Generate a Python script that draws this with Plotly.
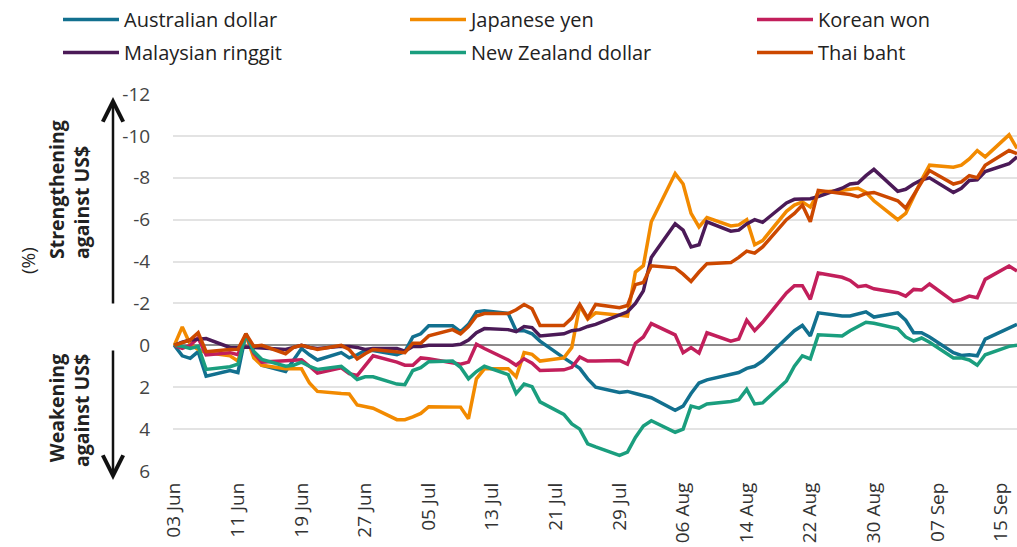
import pandas as pd
import plotly.graph_objects as go

dates = pd.bdate_range("2024-06-03", "2024-09-17")

aud = [0, 0.5, 0.62, 0.3, 1.47,
       1.2, 1.3, -0.55, 0.4, 0.95,
       1.25, 0.7, 0.15, 0.45, 0.7,
       0.35, 0.6, 0.45, 0.25, 0.25,
       0.45, 0.3, -0.4, -0.55, -0.93,
       -0.93, -0.65, -1.0, -1.6, -1.65,
       -1.52, -0.7, -0.7, -0.55, -0.2,
       0.6, 0.85, 1.1, 1.6, 2.0,
       2.25, 2.2, 2.3, 2.4, 2.5,
       3.1, 2.9, 2.3, 1.8, 1.65,
       1.4, 1.3, 1.1, 1.0, 0.75,
       -0.3, -0.7, -0.95, -0.45, -1.55,
       -1.4, -1.4, -1.5, -1.6, -1.35,
       -1.55, -1.2, -0.6, -0.6, -0.4,
       0.35, 0.48, 0.45, 0.5, -0.3,
       -0.8, -1.0]

jpy = [0, -0.88, -0.05, 0.2, 0.35,
       0.5, 0.75, -0.5, 0.6, 0.95,
       1.12, 1.12, 1.12, 1.8, 2.2,
       2.3, 2.32, 2.85, 2.93, 3.0,
       3.55, 3.55, 3.42, 3.25, 2.93,
       2.93, 2.95, 3.5, 1.6, 1.12,
       1.12, 1.5, 0.35, 0.43, 0.75,
       0.6, 0.1, -1.9, -1.25, -1.55,
       -1.45, -1.4, -3.5, -3.8, -5.9,
       -8.2, -7.7, -6.3, -5.65, -6.1,
       -5.7, -5.75, -6.0, -4.8, -5.0,
       -6.4, -6.7, -6.85, -6.6, -7.3,
       -7.4, -7.45, -7.5, -7.3, -6.9,
       -6.0, -6.3, -7.1, -7.9, -8.6,
       -8.5, -8.6, -8.9, -9.3, -9.0,
       -10.05, -9.4]

krw = [0, 0.15, 0.0, -0.35, 0.46,
       0.35, 0.45, -0.5, 0.38, 0.8,
       0.74, 0.7, 0.69, 1.0, 1.33,
       1.07, 1.35, 1.44, 1.0, 0.5,
       0.8, 0.95, 0.95, 0.6, 0.64,
       0.85, 0.9, 0.8, -0.05, 0.15,
       0.7, 0.95, 0.64, 0.85, 1.2,
       1.17, 1.05, 0.56, 0.75, 0.75,
       0.72, 0.9, -0.1, -0.4, -1.04,
       -0.5, 0.35, 0.11, 0.37, -0.6,
       -0.2, -0.3, -1.2, -0.7, -1.1,
       -2.5, -2.85, -2.85, -2.2, -3.45,
       -3.25, -3.1, -2.8, -2.85, -2.7,
       -2.51, -2.35, -2.67, -2.64, -2.93,
       -2.1, -2.19, -2.35, -2.27, -3.15,
       -3.79, -3.55]

myr = [0, -0.15, -0.25, -0.28, -0.32,
       0.1, 0.12, 0.08, 0.1, 0.12,
       0.2, 0.1, 0.0, 0.1, 0.15,
       0.05, 0.05, 0.1, 0.2, 0.15,
       0.15, 0.28, 0.05, 0.05, 0.0,
       0.0, -0.05, -0.25, -0.6, -0.8,
       -0.75, -0.65, -0.9, -0.85, -0.45,
       -0.55, -0.7, -0.75, -0.9, -1.0,
       -1.45, -1.6, -2.0, -2.6, -4.2,
       -5.8, -5.5, -4.7, -4.8, -5.9,
       -5.45, -5.5, -5.8, -6.0, -5.87,
       -6.8, -6.97, -7.0, -7.0, -7.1,
       -7.5, -7.7, -7.75, -8.1, -8.4,
       -7.35, -7.45, -7.7, -7.9, -8.0,
       -7.3, -7.5, -7.87, -7.9, -8.3,
       -8.67, -9.0]

nzd = [0, 0.05, 0.15, 0.05, 1.15,
       1.02, 0.9, -0.55, 0.3, 0.67,
       1.0, 0.95, 0.8, 1.0, 1.15,
       1.0, 1.3, 1.63, 1.5, 1.5,
       1.85, 1.88, 1.2, 1.07, 0.78,
       0.75, 1.05, 1.6, 1.25, 1.0,
       1.4, 2.3, 1.85, 1.97, 2.7,
       3.3, 3.75, 4.0, 4.7, 4.85,
       5.25, 5.1, 4.4, 3.85, 3.6,
       4.15, 4.0, 2.9, 3.0, 2.8,
       2.68, 2.6, 2.1, 2.8, 2.75,
       1.7, 1.0, 0.5, 0.65, -0.5,
       -0.45, -0.7, -0.9, -1.1, -1.05,
       -0.8, -0.4, -0.2, -0.35, -0.15,
       0.6, 0.6, 0.7, 0.95, 0.45,
       0.05, 0.0]

thb = [0, -0.15, -0.26, -0.6, 0.3,
       0.2, 0.19, -0.55, 0.05, 0.0,
       0.4, 0.1, 0.0, 0.1, 0.2,
       0.0, 0.2, 0.65, 0.4, 0.2,
       0.3, 0.35, -0.1, -0.1, -0.45,
       -0.75, -0.55, -0.9, -1.4, -1.52,
       -1.52, -1.7, -1.95, -1.75, -0.95,
       -0.95, -1.3, -1.95, -1.3, -1.95,
       -1.8, -1.9, -2.9, -3.0, -3.8,
       -3.7, -3.4, -3.05, -3.5, -3.9,
       -3.95, -4.2, -4.5, -4.4, -4.7,
       -6.0, -6.3, -6.7, -5.9, -7.4,
       -7.25, -7.2, -7.1, -7.25, -7.3,
       -6.9, -6.55, -7.2, -7.8, -8.35,
       -7.7, -7.8, -8.1, -8.0, -8.6,
       -9.3, -9.15]

series_names = ["Australian dollar", "Japanese yen", "Korean won",
                "Malaysian ringgit", "New Zealand dollar", "Thai baht"]
series_values = [aud, jpy, krw, myr, nzd, thb]
series_colors = ["#12708F", "#F28A00", "#C21F5B", "#4B1A57", "#1A9E7E", "#CC4800"]
legend_slot = ["legend", "legend2", "legend3", "legend", "legend2", "legend3"]

y_ticks = [-12, -10, -8, -6, -4, -2, 0, 2, 4, 6]
y_tick_labels = ["-12", "-10", "-8", "-6", "-4", "-2", "0", "2", "4", "6"]

FONT = "Open Sans"
L, T, W, H = 173, 94, 844, 377  # plot area in pixels


def px_x(p):
    return (p - L) / W


def px_y(p):
    return (T + H - p) / H


fig = go.Figure()
for name, vals, col, lg in zip(series_names, series_values, series_colors, legend_slot):
    fig.add_trace(go.Scatter(x=dates, y=vals, name=name, mode="lines",
                             legend=lg, legendgroup=name,
                             line=dict(color=col, width=3.5)))

legend_common = dict(orientation="v", xanchor="left", yanchor="top", y=px_y(0),
                     itemwidth=56, tracegroupgap=4, bgcolor="rgba(0,0,0,0)",
                     font=dict(size=20, color="#222222", family=FONT),
                     traceorder="grouped")

fig.update_layout(
    width=1017, height=547,
    margin=dict(l=L, r=1017 - L - W, t=T, b=547 - T - H, autoexpand=False),
    paper_bgcolor="white", plot_bgcolor="white",
    font=dict(family=FONT, size=19, color="#333333"),
    showlegend=True,
    legend=dict(x=px_x(58), **legend_common),
    legend2=dict(x=px_x(405), **legend_common),
    legend3=dict(x=px_x(752), **legend_common),
    xaxis=dict(type="date", range=["2024-06-02 20:00", "2024-09-17"],
               tick0="2024-06-03", dtick=8 * 86400000, tickformat="%d %b",
               tickangle=-90, showgrid=False, zeroline=False, showline=False,
               ticks="outside", ticklen=3, tickcolor="rgba(0,0,0,0)",
               tickfont=dict(size=19, color="#333333")),
    yaxis=dict(range=[6, -12], tickvals=y_ticks, ticktext=y_tick_labels,
               showgrid=True, gridcolor="#E3E3E3", gridwidth=1.5, zeroline=True,
               zerolinecolor="#8C8C8C", zerolinewidth=1.5, showline=False,
               ticks="outside", ticklen=18, tickcolor="rgba(0,0,0,0)",
               tickfont=dict(size=19, color="#444444")),
)

# side labels
fig.add_annotation(text="(%)", xref="paper", yref="paper",
                   x=px_x(28), y=px_y(261), xanchor="center", yanchor="middle",
                   showarrow=False, textangle=-90,
                   font=dict(size=19, color="#222222"))
fig.add_annotation(text="<b>Strengthening<br>against US$</b>", xref="paper", yref="paper",
                   x=px_x(69), y=px_y(190), xanchor="center", yanchor="middle",
                   showarrow=False, textangle=-90, align="left",
                   font=dict(size=19.5, color="#222222"))
fig.add_annotation(text="<b>Weakening<br>against US$</b>", xref="paper", yref="paper",
                   x=px_x(69), y=px_y(411), xanchor="center", yanchor="middle",
                   showarrow=False, textangle=-90, align="right",
                   font=dict(size=19.5, color="#222222"))
# arrows
fig.add_annotation(text="", xref="paper", yref="paper",
                   x=px_x(113), y=px_y(97),
                   axref="pixel", ayref="pixel", ax=0, ay=208,
                   showarrow=True, arrowhead=5, arrowsize=1.6, arrowwidth=2.5,
                   arrowcolor="#111111")
fig.add_annotation(text="", xref="paper", yref="paper",
                   x=px_x(113), y=px_y(480),
                   axref="pixel", ayref="pixel", ax=0, ay=-131,
                   showarrow=True, arrowhead=5, arrowsize=1.6, arrowwidth=2.5,
                   arrowcolor="#111111")

fig.write_html("out.html", config={"displayModeBar": False},
               post_script="document.body.style.margin='0';")
